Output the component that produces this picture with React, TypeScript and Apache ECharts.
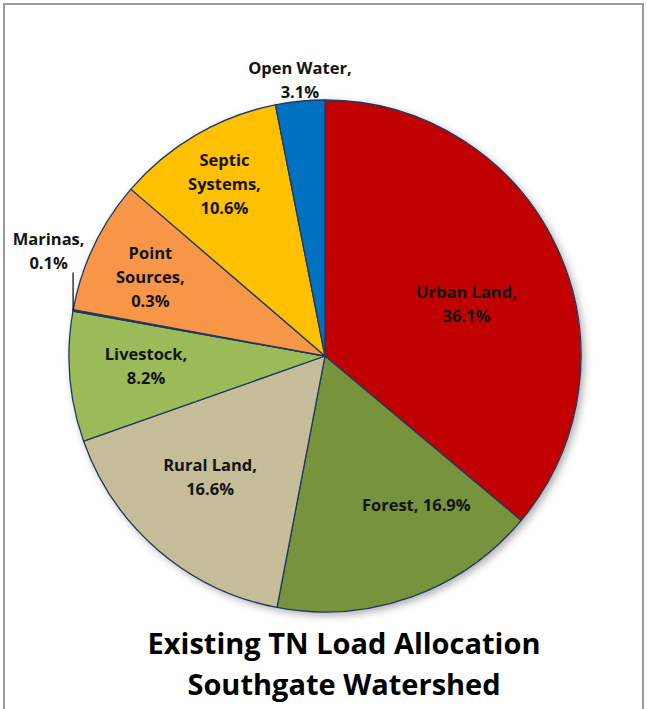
import React, { useEffect, useRef } from "react";
import * as echarts from "echarts";

// ---- data ----
const categories = [
  "Urban Land",
  "Forest",
  "Rural Land",
  "Livestock",
  "Marinas",
  "Point Sources",
  "Septic Systems",
  "Open Water",
];
// slice sizes as drawn (percent of the pie)
const sliceShares = [36.1, 16.9, 16.6, 8.2, 0.1, 8.4, 10.6, 3.1];
// percentages printed in the labels
const labelPercents = ["36.1%", "16.9%", "16.6%", "8.2%", "0.1%", "0.3%", "10.6%", "3.1%"];
// label name text (with the original line breaks)
const labelNames = [
  "Urban Land,",
  "Forest,",
  "Rural Land,",
  "Livestock,",
  "Marinas,",
  "Point\nSources,",
  "Septic\nSystems,",
  "Open Water,",
];
const titleLines = ["Existing TN Load Allocation", "Southgate Watershed"];

// ---- styling / layout ----
const COLORS = ["#C00000", "#77933C", "#C4BD97", "#9BBB59", "#1F497D", "#F79646", "#FFC000", "#0070C0"];
const LABEL_SEP = ["\n", " ", "\n", "\n", "\n", "\n", "\n", "\n"];
const LABEL_FRAC = [0.59, 0.68, 0.65, 0.7, 1.156, 0.75, 0.78, 1.086];
const LABEL_SHIFT = [4.5, -12, 3, 1.8, 10.7, -1, 0, 0.4];
const CX = 325;
const CY = 356;
const R = 256;
const FONT = '"Open Sans", "Noto Sans", sans-serif';

export default function App() {
  const ref = useRef<HTMLDivElement>(null);

  useEffect(() => {
    if (!ref.current) return;
    const chart = echarts.init(ref.current, null, { renderer: "svg" });

    const total = sliceShares.reduce((a, b) => a + b, 0);
    const midDeg: number[] = [];
    let cum = 0;
    sliceShares.forEach((v) => {
      midDeg.push(((cum + v / 2) / total) * 360);
      cum += v;
    });

    const marinaIdx = categories.indexOf("Marinas");
    const mA = (midDeg[marinaIdx] * Math.PI) / 180;
    const mx = CX + R * Math.sin(mA);
    const my = CY - R * Math.cos(mA);

    chart.setOption({
      animation: false,
      backgroundColor: "#ffffff",
      graphic: [
        {
          type: "rect",
          shape: { x: 4, y: 4, width: 639, height: 740 },
          style: { fill: "none", stroke: "#9a9a9a", lineWidth: 2 },
          silent: true,
        },
        {
          type: "line",
          shape: { x1: mx, y1: my, x2: mx, y2: my - 38 },
          style: { stroke: "#000000", lineWidth: 1.2 },
          silent: true,
          z: 10,
        },
        {
          type: "text",
          x: 344,
          y: 642,
          style: {
            text: titleLines[0],
            align: "center",
            verticalAlign: "middle",
            fontFamily: FONT,
            fontWeight: 700,
            fontSize: 29,
            fill: "#000000",
          },
        },
        {
          type: "text",
          x: 344,
          y: 683,
          style: {
            text: titleLines[1],
            align: "center",
            verticalAlign: "middle",
            fontFamily: FONT,
            fontWeight: 700,
            fontSize: 29,
            fill: "#000000",
          },
        },
      ],
      series: [
        {
          type: "pie",
          silent: true,
          center: [CX, CY],
          radius: R,
          label: { show: false },
          labelLine: { show: false },
          data: [
            {
              value: 1,
              name: "",
              itemStyle: {
                color: "#ffffff",
                shadowBlur: 8,
                shadowOffsetX: 3,
                shadowOffsetY: 3,
                shadowColor: "rgba(0,0,0,0.35)",
              },
            },
          ],
        },
        {
          type: "pie",
          center: [CX, CY],
          radius: R,
          startAngle: 90,
          clockwise: true,
          itemStyle: { borderColor: "#1F3864", borderWidth: 1.3 },
          label: {
            show: true,
            position: "inside",
            fontFamily: FONT,
            fontWeight: 700,
            fontSize: 16.5,
            lineHeight: 24,
            color: "#141414",
            align: "center",
            formatter: (p: any) => labelNames[p.dataIndex] + LABEL_SEP[p.dataIndex] + labelPercents[p.dataIndex],
          },
          labelLine: { show: false },
          labelLayout: (params: any) => {
            const i = params.dataIndex;
            const a = ((midDeg[i] + LABEL_SHIFT[i]) * Math.PI) / 180;
            const r = R * LABEL_FRAC[i];
            return {
              x: CX + r * Math.sin(a),
              y: CY - r * Math.cos(a),
              align: "center",
              verticalAlign: "middle",
            };
          },
          data: categories.map((name, i) => ({
            name,
            value: sliceShares[i],
            itemStyle: { color: COLORS[i] },
          })),
        },
      ],
    });

    return () => chart.dispose();
  }, []);

  return (
    <div
      ref={ref}
      style={{ position: "absolute", left: 0, top: 0, width: 647, height: 709 }}
    />
  );
}
